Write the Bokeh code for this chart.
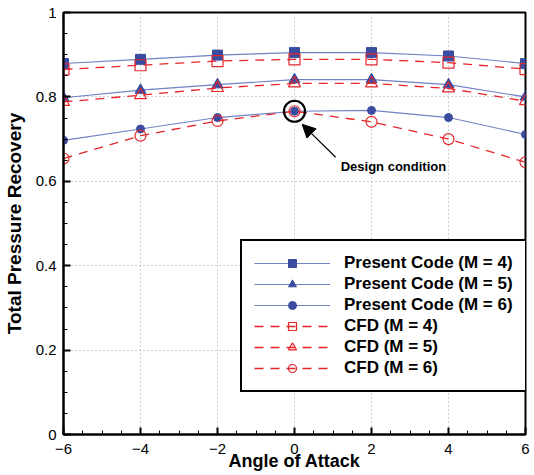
from bokeh.plotting import figure
from bokeh.models import Legend, LegendItem, Arrow, NormalHead, Label, FixedTicker, Range1d
from bokeh.embed import file_html
from bokeh.resources import INLINE

aoa = [-6, -4, -2, 0, 2, 4, 6]
pc_m4 = [0.879, 0.889, 0.899, 0.905, 0.905, 0.897, 0.879]
pc_m5 = [0.798, 0.816, 0.829, 0.841, 0.841, 0.829, 0.800]
pc_m6 = [0.697, 0.724, 0.751, 0.766, 0.768, 0.751, 0.711]
cfd_m4 = [0.865, 0.875, 0.885, 0.889, 0.889, 0.881, 0.866]
cfd_m5 = [0.788, 0.804, 0.821, 0.832, 0.832, 0.820, 0.790]
cfd_m6 = [0.654, 0.708, 0.743, 0.766, 0.741, 0.700, 0.645]
design_x, design_y = 0, 0.766
x_ticks = [-6, -4, -2, 0, 2, 4, 6]
y_ticks = [0, 0.2, 0.4, 0.6, 0.8, 1]

BLUE_M = "#3a4c9f"
BLUE_L = "#7081c4"
RED = "#e3262a"
FONT = "Liberation Sans"

p = figure(width=534, height=475, output_backend="svg", toolbar_location=None,
           x_range=Range1d(-6, 6), y_range=Range1d(0, 1),
           min_border_left=63, min_border_right=9, min_border_top=12, min_border_bottom=41)
p.outline_line_color = "black"
p.outline_line_width = 2
p.outline_line_alpha = 1

for ax in (p.xaxis[0], p.yaxis[0]):
    ax.axis_line_width = 2
    ax.axis_line_color = "black"
    ax.major_tick_in = 7
    ax.major_tick_out = 0
    ax.major_tick_line_width = 2
    ax.minor_tick_in = 4
    ax.minor_tick_out = 0
    ax.major_label_text_font = FONT
    ax.major_label_text_font_size = "15px"
    ax.major_label_text_color = "black"
    ax.axis_label_text_font = FONT
    ax.axis_label_text_font_style = "bold"
    ax.axis_label_text_color = "black"

p.xaxis.ticker = FixedTicker(ticks=x_ticks, minor_ticks=[x * 0.5 - 6 for x in range(25)])
p.yaxis.ticker = FixedTicker(ticks=y_ticks, minor_ticks=[y * 0.05 for y in range(21)])
p.xaxis.axis_label = "Angle of Attack"
p.yaxis.axis_label = "Total Pressure Recovery"
p.xaxis.axis_label_text_font_size = "18px"
p.yaxis.axis_label_text_font_size = "19px"
p.xaxis.major_label_standoff = 9
p.yaxis.major_label_standoff = 7
p.xaxis.axis_label_standoff = -6
p.yaxis.axis_label_standoff = 8

for g in (p.xgrid[0], p.ygrid[0]):
    g.grid_line_color = "#a0a0a0"
    g.grid_line_dash = "1 3"
    g.grid_line_width = 1

items = []
series = [
    ("Present Code (M = 4)", pc_m4, "square", 10, True),
    ("Present Code (M = 5)", pc_m5, "triangle", 11, True),
    ("Present Code (M = 6)", pc_m6, "circle", 8, True),
    ("CFD (M = 4)", cfd_m4, "square", 11, False),
    ("CFD (M = 5)", cfd_m5, "triangle", 12, False),
    ("CFD (M = 6)", cfd_m6, "circle", 11, False),
]
for label, ys, marker, size, solid in series:
    if solid:
        l = p.line(aoa, ys, line_color=BLUE_L, line_width=1.1)
        s = p.scatter(aoa, ys, marker=marker, size=size, fill_color=BLUE_M, line_color=BLUE_M)
    else:
        l = p.line(aoa, ys, line_color=RED, line_width=1.3, line_dash="9 7")
        s = p.scatter(aoa, ys, marker=marker, size=size, fill_color=None, line_color=RED, line_width=1.2)
    items.append(LegendItem(label=label, renderers=[l, s]))

p.scatter([design_x], [design_y], marker="circle", size=21, fill_color=None,
          line_color="black", line_width=2.2)
p.add_layout(Arrow(end=NormalHead(size=13, fill_color="black", line_color="black"),
                   x_start=1.07, y_start=0.657, x_end=0.2, y_end=0.735,
                   line_color="black", line_width=1.2))
p.add_layout(Label(x=1.2, y=0.636, text="Design condition", text_font=FONT,
                   text_font_style="bold", text_font_size="13px", text_baseline="middle",
                   text_color="black"))

legend = Legend(items=items, location=(177, 42), orientation="vertical",
                border_line_color="black", border_line_width=2, border_line_alpha=1,
                background_fill_color="white", background_fill_alpha=1,
                label_text_font=FONT, label_text_font_style="bold",
                label_text_font_size="17px", label_text_color="black",
                glyph_width=76, glyph_height=20, label_height=20,
                label_standoff=14, padding=12, spacing=1, margin=0)
p.add_layout(legend, "center")

open("out.html", "w").write(file_html(p, INLINE))
